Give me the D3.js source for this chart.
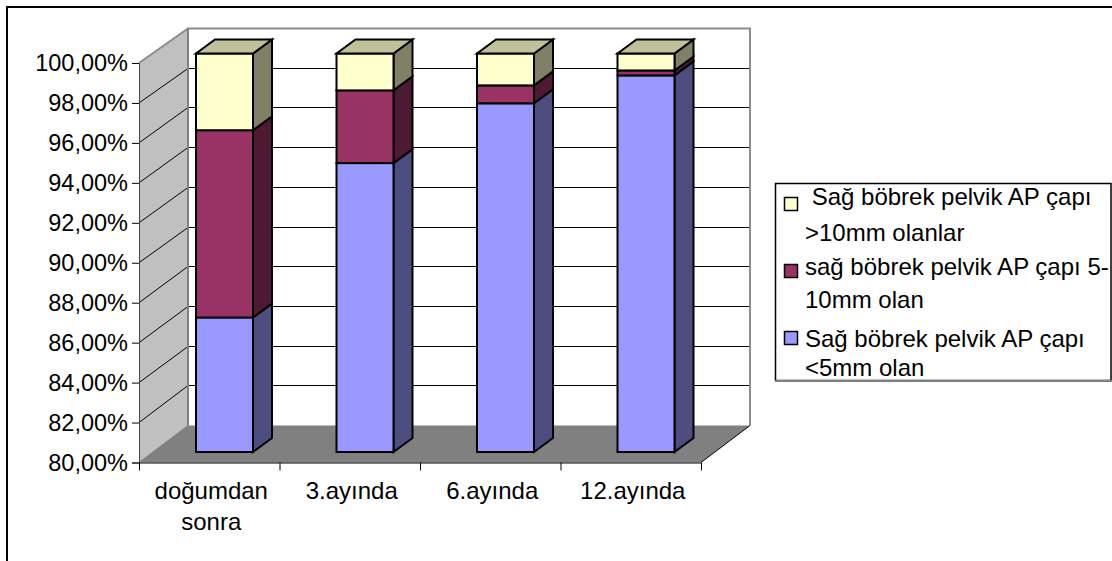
<!DOCTYPE html>
<html><head><meta charset="utf-8">
<script src="https://cdn.jsdelivr.net/npm/d3@7"></script>
<style>html,body{margin:0;padding:0;background:#fff}svg{display:block}text{font-family:"Liberation Sans",Arial,sans-serif;fill:#000}</style>
</head><body><svg id="c" width="1112" height="561"></svg>
<script>
const categories=["doğumdan sonra","3.ayında","6.ayında","12.ayında"];
const small=[86.75,94.5,97.5,98.9];
const middle=[9.4,3.65,0.9,0.25];
const large=[3.85,1.85,1.6,0.85];
const tickValues=[80,82,84,86,88,90,92,94,96,98,100];
const seriesKeys=["small","middle","large"];
const seriesFront=["#9999FF","#993366","#FFFFCC"];
const seriesSide=["#4D4D80","#4D1933","#808066"];
const topColor="#C0C09A";
const legendLines=[[" Sağ böbrek pelvik AP çapı",">10mm olanlar"],["sağ böbrek pelvik AP çapı 5-","10mm olan"],["Sağ böbrek pelvik AP çapı","<5mm olan"]];

const svg=d3.select("#c");
const fmt=v=>v.toFixed(2).replace(".",",")+"%";
const yFront=d3.scaleLinear().domain([80,100]).range([462.5,63]);
const yBack=d3.scaleLinear().domain([80,100]).range([425.5,28.5]);
const yBar=d3.scaleLinear().domain([80,100]).range([452,53.5]);
const xFront=d3.scaleBand().domain(categories).range([139,701]);
const depth={x:49,y:-37}, barDepth={x:19,y:-14};
const barW=57, barOff=57;

svg.append("rect").attr("x",7).attr("y",7).attr("width",1110).attr("height",560).attr("fill","#fff").attr("stroke","#000").attr("stroke-width",2);

const left=139,right=701,back=left+depth.x,backR=right+depth.x;
const wall=svg.append("g");
wall.append("path").attr("d",`M${left},${yFront(80)}L${left},${yFront(100)}L${back},${yBack(100)}L${back},${yBack(80)}Z`).attr("fill","#C0C0C0");
wall.append("rect").attr("x",back).attr("y",yBack(100)).attr("width",backR-back).attr("height",yBack(80)-yBack(100)).attr("fill","#fff");
wall.append("path").attr("d",`M${left},${yFront(80)}L${back},${yBack(80)}L${backR},${yBack(80)}L${right},${yFront(80)}Z`).attr("fill","#808080");
wall.selectAll("path.g").data(tickValues.slice(1,-1)).join("path").attr("class","g")
 .attr("d",v=>`M${left},${yFront(v)}L${back},${Math.floor(yBack(v))+.5}L${backR},${Math.floor(yBack(v))+.5}`)
 .attr("fill","none").attr("stroke","#000").attr("stroke-width",1);
wall.append("path").attr("d",`M${left},${yFront(100)}L${back},${yBack(100)}L${backR},${yBack(100)}L${backR},${yBack(80)}`).attr("fill","none").attr("stroke","#8c8c8c").attr("stroke-width",2);
wall.append("path").attr("d",`M${back},${yBack(100)}L${back},${yBack(80)}`).attr("fill","none").attr("stroke","#808080").attr("stroke-width",2);
wall.append("path").attr("d",`M${backR},${yBack(80)}L${right},${yFront(80)}`).attr("fill","none").attr("stroke","#000");
wall.append("path").attr("d",`M${left},${yFront(80)}L${back},${yBack(80)}`).attr("fill","none").attr("stroke","#808080");

const yAxis=d3.axisLeft(yFront).tickValues(tickValues).tickFormat(fmt).tickSize(7).tickPadding(4);
const gy=svg.append("g").attr("transform",`translate(${left},0)`).call(yAxis);
gy.selectAll("text").attr("font-size",23.5).attr("font-family",'"Liberation Sans"');
gy.select(".domain").attr("stroke","#444");
const xAxis=d3.axisBottom(xFront).tickSize(0).tickFormat("");
const gx=svg.append("g").attr("transform",`translate(0,${yFront(80)})`).call(xAxis);
gx.select(".domain").attr("d",`M${left},0.5L${right},0.5`).attr("stroke","#000");
const bounds=xFront.domain().map(d=>xFront(d)).concat([right]);
gx.selectAll("line.t").data(bounds).join("line").attr("class","t").attr("x1",d=>d+.5).attr("x2",d=>d+.5).attr("y1",0).attr("y2",8).attr("stroke","#000");
categories.forEach(c=>{
  c.split(" ").forEach((w,i)=>gx.append("text").text(w).attr("x",xFront(c)+xFront.bandwidth()/2+2).attr("y",36+i*31).attr("text-anchor","middle").attr("font-size",24).attr("fill","#000"));
});

const rows=categories.map((c,i)=>({c,small:small[i],middle:middle[i],large:large[i]}));
const stack=d3.stack().keys(seriesKeys)(rows);
const bars=svg.append("g").attr("stroke","#000").attr("stroke-width",2).attr("stroke-linejoin","miter");
categories.forEach((c,i)=>{
  const x0=xFront(c)+barOff, x1=x0+barW;
  stack.forEach((s,k)=>{
    const lo=Math.max(s[i][0],80), hi=Math.min(s[i][1],100);
    const a=yBar(k===0?80:lo), b=yBar(hi);
    bars.append("path").attr("d",`M${x1},${a}L${x1+barDepth.x},${a+barDepth.y}L${x1+barDepth.x},${b+barDepth.y}L${x1},${b}Z`).attr("fill",seriesSide[k]);
    bars.append("rect").attr("x",x0).attr("y",b).attr("width",barW).attr("height",a-b).attr("fill",seriesFront[k]);
    if(k===2) bars.append("path").attr("d",`M${x0},${b}L${x0+barDepth.x},${b+barDepth.y}L${x1+barDepth.x},${b+barDepth.y}L${x1},${b}Z`).attr("fill",topColor);
  });
});

const lg=svg.append("g");
lg.append("rect").attr("x",775.5).attr("y",183.5).attr("width",335.5).attr("height",197).attr("fill","#fff").attr("stroke","#000").attr("stroke-width",1.5);
lg.append("line").attr("x1",775).attr("x2",1112).attr("y1",381).attr("y2",381).attr("stroke","#808080").attr("stroke-width",2);
const swatchY=[204,271,338], baselines=[[205,241],[275,308],[347,376]], colours=[seriesFront[2],seriesFront[1],seriesFront[0]];
legendLines.forEach((ls,i)=>{
  lg.append("rect").attr("x",784.5).attr("y",swatchY[i]-6.5).attr("width",13).attr("height",13).attr("fill",colours[i]).attr("stroke","#000").attr("stroke-width",1.5);
  ls.forEach((t,j)=>lg.append("text").text(t).style("white-space","pre").attr("x",805).attr("y",baselines[i][j]).attr("font-size",24));
});
</script></body></html>
